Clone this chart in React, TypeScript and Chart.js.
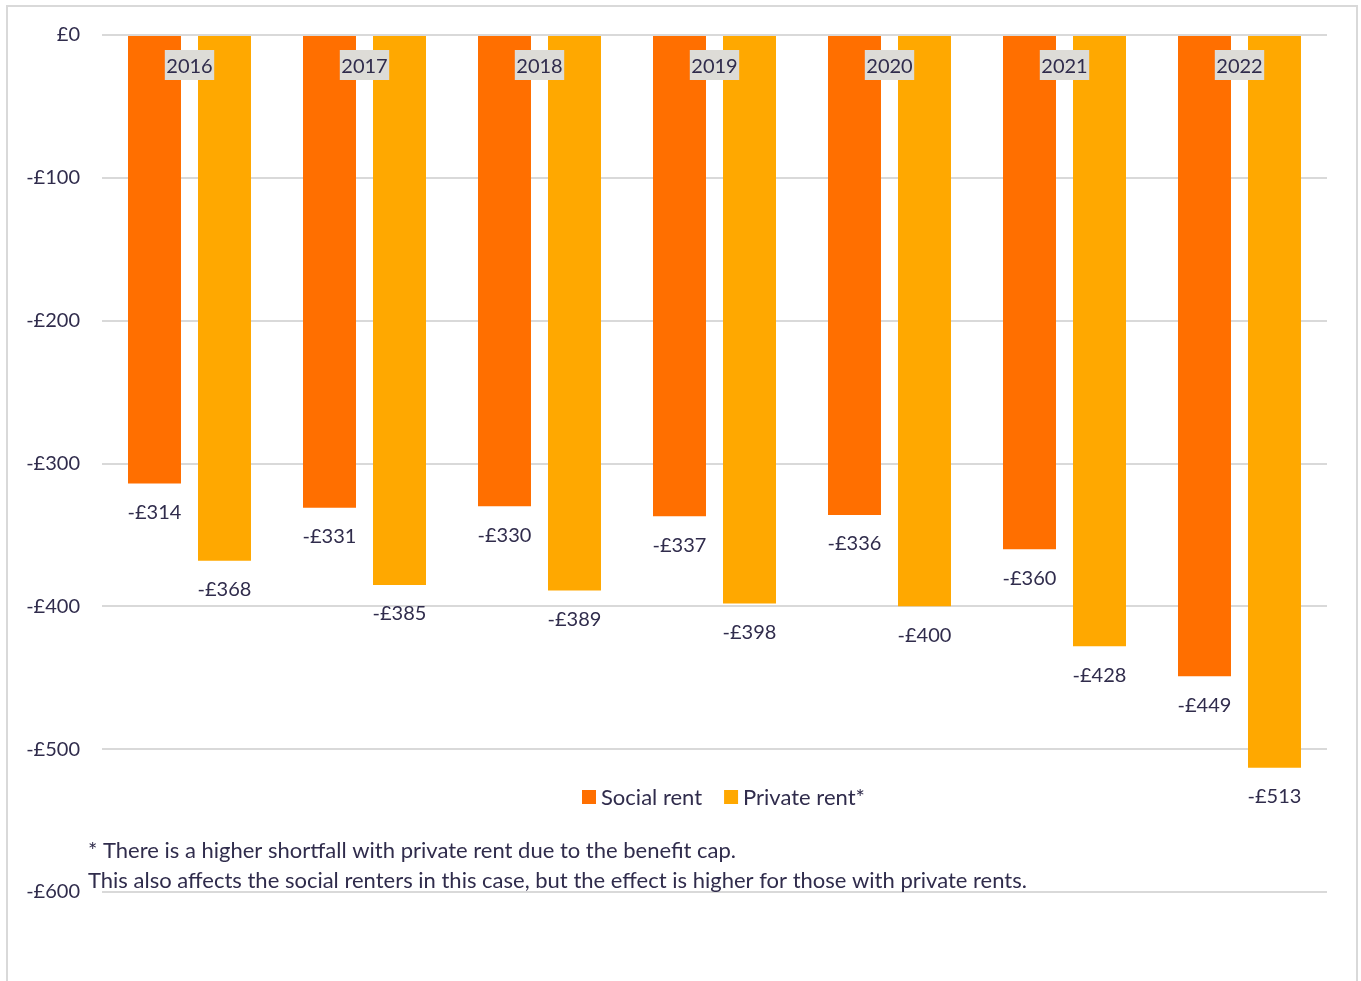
import React, { useEffect, useRef } from "react";
import { Chart, registerables } from "chart.js";

Chart.register(...registerables);

const years = ["2016", "2017", "2018", "2019", "2020", "2021", "2022"];
const socialRent = [-314, -331, -330, -337, -336, -360, -449];
const privateRent = [-368, -385, -389, -398, -400, -428, -513];
const seriesNames = ["Social rent", "Private rent*"];
const seriesColors = ["#FF6F00", "#FFA800"];
const footnotes = [
  "* There is a higher shortfall with private rent due to the benefit cap.",
  "This also affects the social renters in this case, but the effect is higher for those with private rents.",
];

const TEXT = "#302c4c";
const FONT = "Lato, 'Open Sans', sans-serif";

const money = (v: number) => (v === 0 ? "£0" : (v < 0 ? "-£" : "£") + Math.abs(v));

export default function App() {
  const ref = useRef<HTMLCanvasElement | null>(null);

  useEffect(() => {
    const canvas = ref.current;
    if (!canvas) return;

    const overlay = {
      id: "overlay",
      afterDatasetsDraw(chart: any) {
        const ctx = chart.ctx;
        const xs = chart.scales.x;
        const ys = chart.scales.y;
        ctx.save();
        // data labels
        ctx.font = `20px ${FONT}`;
        ctx.fillStyle = TEXT;
        ctx.textAlign = "center";
        ctx.textBaseline = "middle";
        chart.data.datasets.forEach((ds: any, di: number) => {
          const meta = chart.getDatasetMeta(di);
          meta.data.forEach((el: any, i: number) => {
            ctx.fillText(money(ds.data[i]), el.x, el.y + 29);
          });
        });
        // category labels with backdrop
        const y0 = ys.getPixelForValue(0);
        years.forEach((yr, i) => {
          const cx = xs.getPixelForValue(i);
          const w = ctx.measureText(yr).width + 3;
          ctx.fillStyle = "#dddcd7";
          ctx.fillRect(cx - w / 2, y0 + 15, w, 30);
          ctx.fillStyle = TEXT;
          ctx.fillText(yr, cx, y0 + 32);
        });
        // legend
        ctx.font = `22px ${FONT}`;
        const ly = 797;
        let lx = 582;
        ctx.textAlign = "left";
        seriesNames.forEach((name, i) => {
          ctx.fillStyle = seriesColors[i];
          ctx.fillRect(lx, ly - 7, 14, 14);
          ctx.fillStyle = TEXT;
          ctx.fillText(name, lx + 19, ly + 1);
          lx += 19 + ctx.measureText(name).width + 22;
        });
        // footnotes
        ctx.font = `22px ${FONT}`;
        footnotes.forEach((t, i) => {
          ctx.fillText(t, 88, 851 + i * 30);
        });
        ctx.restore();
      },
    };

    const chart = new Chart(canvas, {
      type: "bar",
      data: {
        labels: years,
        datasets: [
          {
            label: seriesNames[0],
            data: socialRent,
            backgroundColor: seriesColors[0],
            categoryPercentage: 0.8,
            barPercentage: 0.757,
          },
          {
            label: seriesNames[1],
            data: privateRent,
            backgroundColor: seriesColors[1],
            categoryPercentage: 0.8,
            barPercentage: 0.757,
          },
        ],
      },
      options: {
        animation: false,
        responsive: false,
        maintainAspectRatio: false,
        layout: { padding: { left: 0, right: 34, top: 35, bottom: 89 } },
        plugins: {
          legend: { display: false },
          tooltip: { enabled: false },
        },
        scales: {
          x: {
            display: false,
          },
          y: {
            min: -600,
            max: 0,
            afterFit(scale: any) {
              scale.width = 102;
            },
            border: { display: false },
            grid: { color: "#d9d9d9", lineWidth: 2, drawTicks: false },
            ticks: {
              stepSize: 100,
              padding: 22,
              color: TEXT,
              font: { family: FONT, size: 20 },
              callback: (v: any) => money(Number(v)),
            },
          },
        },
      },
      plugins: [overlay],
    });
    return () => chart.destroy();
  }, []);

  return (
    <div style={{ position: "fixed", left: 0, top: 0, width: 1361, height: 981, background: "#fff", overflow: "hidden" }}>
      <div
        style={{
          position: "absolute",
          left: 6,
          top: 5,
          width: 1348,
          height: 1000,
          border: "2px solid #d9d9d9",
        }}
      />
      <canvas ref={ref} width={1361} height={981} style={{ position: "absolute", left: 0, top: 0, width: 1361, height: 981 }} />
    </div>
  );
}
